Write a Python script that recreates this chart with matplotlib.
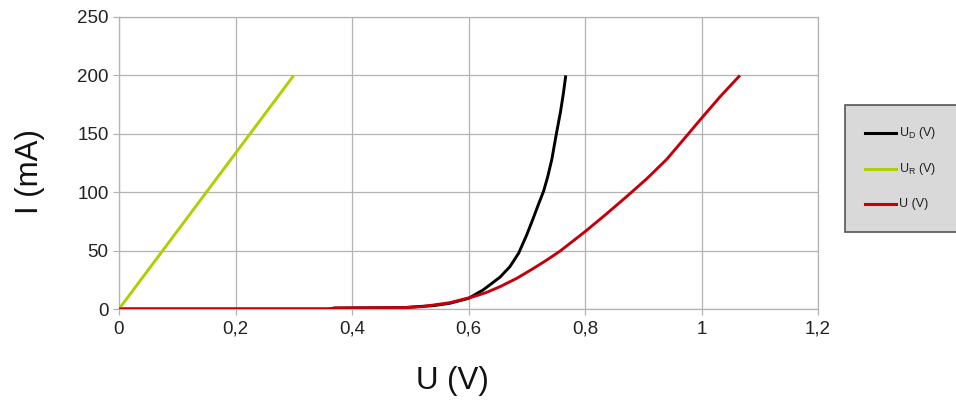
import matplotlib
matplotlib.use("Agg")
import matplotlib.pyplot as plt
from matplotlib.lines import Line2D
from matplotlib.patches import Rectangle

plt.rcParams["font.family"] = ["Liberation Sans", "DejaVu Sans"]
plt.rcParams["mathtext.fontset"] = "custom"
plt.rcParams["mathtext.rm"] = "Liberation Sans"

# measured curves: voltage (V) vs current (mA)
ud_volts = [0, 0.36, 0.37, 0.49, 0.511, 0.54, 0.568, 0.600, 0.625, 0.654, 0.671,
            0.686, 0.700, 0.711, 0.720, 0.729, 0.736, 0.743, 0.751, 0.758, 0.763, 0.767]
ud_current = [0, 0, 0.8, 1.2, 2, 2.9, 4.9, 9.1, 16.3, 27.2, 36.2,
              47.7, 63.5, 77.5, 89.5, 101, 113.3, 128, 150.4, 169, 185, 200]

ur_volts = [0, 0.3]
ur_current = [0, 200]

u_volts = [0, 0.36, 0.37, 0.49, 0.52, 0.568, 0.608, 0.631, 0.654, 0.683, 0.711, 0.734,
           0.757, 0.800, 0.837, 0.872, 0.906, 0.940, 0.969, 1.000, 1.032, 1.066]
u_current = [0, 0, 0.8, 1.2, 2, 5.4, 10.5, 14.2, 19.1, 26.3, 34.6, 41.8,
             49.5, 66.2, 81.5, 96.5, 111.5, 128, 145, 163.3, 181.8, 200]

series_labels = ["U$_{\\mathrm{D}}$ (V)", "U$_{\\mathrm{R}}$ (V)", "U (V)"]
series_colors = ["#000000", "#aecf00", "#c5000b"]

x_ticks = [0, 0.2, 0.4, 0.6, 0.8, 1.0, 1.2]
x_ticklabels = ["0", "0,2", "0,4", "0,6", "0,8", "1", "1,2"]
y_ticks = [0, 50, 100, 150, 200, 250]

W, H = 956, 401
fig = plt.figure(figsize=(W / 100, H / 100), dpi=100)
ax = fig.add_axes([119 / W, 1 - 309 / H, (818 - 119) / W, (309 - 17) / H])

for xs, ys, c in zip([ud_volts, ur_volts, u_volts], [ud_current, ur_current, u_current], series_colors):
    ax.plot(xs, ys, color=c, lw=2.1, solid_capstyle="butt", solid_joinstyle="round", zorder=3)

ax.set_xlim(0, 1.2)
ax.set_ylim(0, 250)
ax.set_xticks(x_ticks)
ax.set_xticklabels(x_ticklabels)
ax.set_yticks(y_ticks)
ax.grid(True, color="#b3b3b3", lw=0.9)
ax.set_axisbelow(True)
for s in ax.spines.values():
    s.set_color("#b3b3b3")
    s.set_linewidth(0.9)
ax.tick_params(axis="both", colors="#b3b3b3", labelcolor="#222222", labelsize=13.5,
               length=4.5, width=0.9)
ax.tick_params(axis="y", pad=3)
ax.tick_params(axis="x", pad=4)

fig.text(30 / W, 1 - 172 / H, "I (mA)", rotation=90, ha="center", va="center",
         fontsize=22.5, color="#111111")
fig.text(452 / W, 1 - 381 / H, "U (V)", ha="center", va="center",
         fontsize=22.5, color="#111111")

# legend box
fig.add_artist(Rectangle((845 / W, 1 - 232 / H), (W + 5 - 845) / W, (232 - 105) / H,
                         transform=fig.transFigure, facecolor="#d9d9d9",
                         edgecolor="#555555", lw=1.2))
for i, (lab, c) in enumerate(zip(series_labels, series_colors)):
    yy = 1 - (133 + i * 35.7) / H
    fig.add_artist(Line2D([865 / W, 896 / W], [yy, yy], transform=fig.transFigure,
                          color=c, lw=2.2))
    fig.text(899 / W, yy, lab, ha="left", va="center", fontsize=9, color="#222222")

fig.savefig("out.png", dpi=100)
